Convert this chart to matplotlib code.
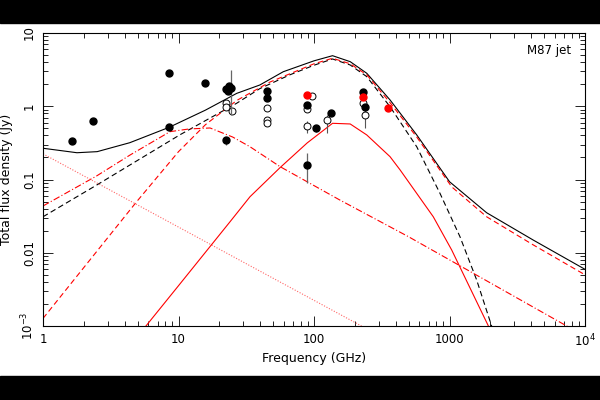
import numpy as np
import matplotlib
matplotlib.use('Agg')
import matplotlib.pyplot as plt
from matplotlib.patches import Rectangle

# Model curves (frequency in GHz, flux in Jy)
tot_nu = [1, 1.78, 2.51, 4.37, 8.51, 15.8, 26.9, 39.8, 59.3, 100, 137, 185, 245, 364, 573, 1000, 1879, 4150, 10000]
tot_s = [0.267, 0.232, 0.240, 0.318, 0.515, 0.885, 1.50, 1.95, 2.96, 4.17, 4.90, 4.06, 2.82, 1.22, 0.406, 0.0933, 0.0352, 0.0149, 0.00594]

bdash_nu = [1, 2.49, 10.3, 26.9, 39.8, 66.5, 100, 137, 185, 245, 364, 573, 851, 1194, 1585, 2046, 2300]
bdash_s = [0.031, 0.084, 0.41, 1.10, 1.74, 2.69, 3.63, 4.42, 3.66, 2.54, 0.986, 0.28, 0.0646, 0.0166, 0.00427, 0.001, 0.0005]

rdash_nu = [1, 4.91, 10, 15.8, 26.9, 47.3, 100, 137, 185, 245, 364, 573, 1038, 1879, 4150, 10000]
rdash_s = [0.00127, 0.0498, 0.24, 0.56, 1.2, 2.14, 3.8, 4.52, 3.8, 2.69, 1.12, 0.38, 0.0794, 0.031, 0.0128, 0.0050]

rdd_nu = [1, 2.49, 4.39, 8.65, 12, 17.1, 25.1, 33.7, 56.1, 155, 497, 7328, 10000]
rdd_s = [0.0435, 0.112, 0.216, 0.45, 0.49, 0.505, 0.38, 0.28, 0.15, 0.0525, 0.0166, 0.001, 0.00072]

rdot_nu = [1, 10, 100, 1000]
rdot_s = [0.224, 0.0224, 0.00224, 0.000224]

rsol_nu = [5.75, 10, 24, 33.7, 56.1, 89.1, 137, 185, 245, 364, 432, 759, 1038, 1936, 2200]
rsol_s = [0.001, 0.00355, 0.0265, 0.0582, 0.145, 0.316, 0.585, 0.573, 0.406, 0.205, 0.135, 0.031, 0.0109, 0.001, 0.0006]

# Measurements
fill_nu = [1.63, 2.33, 8.55, 8.55, 15.7, 22.6, 23.4, 24.4, 23.2, 22.4, 44.8, 44.8, 89.3, 89.3, 103.5, 133, 229, 239]
fill_s = [0.336, 0.62, 0.515, 2.87, 2.1, 1.7, 1.9, 1.8, 1.6, 0.347, 1.63, 1.28, 1.04, 0.158, 0.5, 0.8, 1.58, 0.97]
fill_lo = [0, 0, 0, 0, 0, 0, 0, 1.04, 0, 0.05, 0, 0, 0, 0.069, 0.06, 0, 0, 0]
fill_hi = [0, 0, 0, 0, 0, 0, 0, 1.3, 0, 0.0, 0, 0, 0, 0.07, 0.06, 0, 0, 0]

open_nu = [22.4, 22.4, 24.7, 44.8, 44.8, 44.8, 89.3, 96, 89.3, 125, 229, 239]
open_s = [1.12, 0.97, 0.87, 0.94, 0.65, 0.60, 0.92, 1.39, 0.53, 0.65, 1.1, 0.76]
open_lo = [0.08, 0.08, 0.07, 0.07, 0.05, 0.05, 0.07, 0.0, 0.10, 0.22, 0.0, 0.26]
open_hi = [0.08, 0.08, 0.07, 0.07, 0.05, 0.05, 0.07, 0.0, 0.10, 0.11, 0.0, 0.13]

red_nu = [89.3, 229, 354]
red_s = [1.43, 1.32, 0.955]

fig = plt.figure(figsize=(6, 4), dpi=100)
fig.add_artist(Rectangle((0, 0), 1, 0.06, transform=fig.transFigure, color='black'))
fig.add_artist(Rectangle((0, 0.943), 1, 0.06, transform=fig.transFigure, color='black'))

ax = fig.add_axes([0.0717, 0.185, 0.9033, 0.7325])
ax.set_xscale('log')
ax.set_yscale('log')
ax.set_xlim(1, 1e4)
ax.set_ylim(1e-3, 10)

lw = 0.8
ax.plot(tot_nu, tot_s, color='black', lw=lw)
ax.plot(bdash_nu, bdash_s, color='black', lw=lw, dashes=(5, 3))
ax.plot(rdash_nu, rdash_s, color='red', lw=lw, dashes=(5, 3))
ax.plot(rdd_nu, rdd_s, color='red', lw=lw, dashes=(6, 2, 1, 2))
ax.plot(rdot_nu, rdot_s, color='#ff6666', lw=lw, dashes=(1, 1.5))
ax.plot(rsol_nu, rsol_s, color='red', lw=lw)

ax.errorbar(fill_nu, fill_s, yerr=[fill_lo, fill_hi], fmt='o', color='black', ms=5,
            ecolor='#666666', elinewidth=0.9, capsize=0, zorder=4)
ax.errorbar(open_nu, open_s, yerr=[open_lo, open_hi], fmt='o', mfc='white', mec='black', mew=0.7,
            ms=5, ecolor='#555555', elinewidth=0.8, capsize=0, zorder=3)
ax.plot(red_nu, red_s, 'o', color='red', ms=5, zorder=5)

ax.set_xticks([1, 10, 100, 1000, 1e4])
ax.set_xticklabels(['1', '10', '100', '1000', '$10^4$'])
ax.set_yticks([1e-3, 1e-2, 1e-1, 1, 10])
ax.set_yticklabels(['$10^{-3}$', '0.01', '0.1', '1', '10'], rotation=90, va='center')

ax.tick_params(which='both', direction='in', top=True, right=True, width=0.6, labelsize=8.5)
ax.tick_params(which='major', length=7, pad=5)
ax.tick_params(which='minor', length=3.5)
for s in ax.spines.values():
    s.set_linewidth(0.8)

ax.set_xlabel('Frequency (GHz)', fontsize=9, labelpad=2)
ax.set_ylabel('Total flux density (Jy)', fontsize=9)
ax.yaxis.set_label_coords(-0.056, 0.5)
ax.text(0.975, 0.94, 'M87 jet', transform=ax.transAxes, ha='right', va='center', fontsize=8.5)

fig.savefig('out.png', dpi=100)
